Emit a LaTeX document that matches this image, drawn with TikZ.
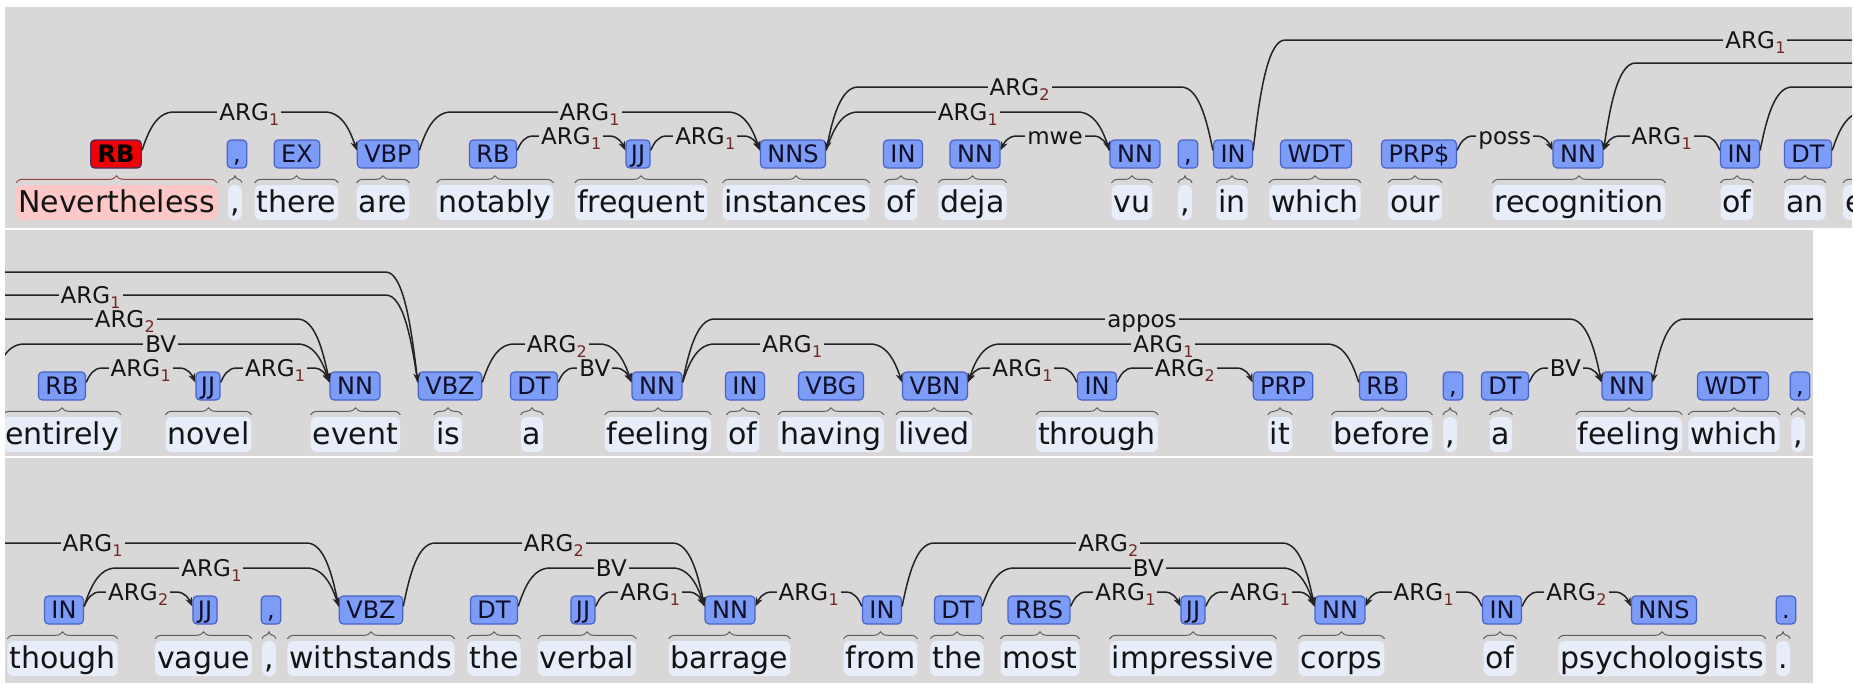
\documentclass[tikz,border=0pt]{standalone}
\usepackage{fontspec}
\setmainfont{DejaVu Sans}
\usetikzlibrary{arrows.meta,calc,decorations.pathreplacing}
\definecolor{bgc}{RGB}{217,215,215}
\definecolor{tagfill}{RGB}{124,156,248}
\definecolor{tagdraw}{RGB}{72,100,200}
\definecolor{tagtxt}{RGB}{15,15,40}
\definecolor{wordbg}{RGB}{232,237,250}
\definecolor{wordtxt}{RGB}{20,20,20}
\definecolor{selbg}{RGB}{255,200,200}
\definecolor{selfill}{RGB}{240,0,0}
\definecolor{seldraw}{RGB}{80,40,100}
\definecolor{selbrace}{RGB}{150,70,70}
\definecolor{bracec}{RGB}{95,95,95}
\definecolor{edgec}{RGB}{35,35,35}
\definecolor{labtxt}{RGB}{20,20,20}
\definecolor{subc}{RGB}{110,40,40}
\newcommand\wordfont{\fontsize{30}{36}\selectfont}
\newcommand\tagfont{\fontsize{24}{28}\selectfont}
\newcommand\labfont{\fontsize{23}{27}\selectfont}
\newcommand\ARG[1]{ARG\kern0.3pt\raisebox{-5pt}{\fontsize{16}{16}\selectfont\color{subc}#1}}
\tikzset{
 wordnode/.style={fill=wordbg, rounded corners=6pt, inner xsep=2pt, inner ysep=2pt, text height=25pt, text depth=6pt, font=\wordfont, text=wordtxt},
 tagbox/.style={draw=tagdraw, fill=tagfill, line width=1.2pt, rounded corners=4pt, minimum height=28pt, inner xsep=7pt, inner ysep=0pt, text height=17.5pt, text depth=0pt, font=\tagfont, text=tagtxt},
 narrowtag/.style={inner xsep=5pt},
 punct/.style={inner xsep=6pt},
 brc/.style={draw=bracec, line width=1pt, decorate, decoration={brace, amplitude=7pt}},
 edgeline/.style={draw=edgec, line width=1.5pt, -{Stealth[length=9pt,width=7pt]}},
 lab/.style={fill=bgc, inner xsep=2pt, inner ysep=1pt, text height=17pt, text depth=0pt, font=\labfont, text=labtxt},
}
% token: [tag opts]{name}{tag x}{word x}{row offset}{tag}{word}
\newcommand\tok[7][]{%
 \node[wordnode] (#2w) at (#4, {-202.5-#5}) {#7};
 \node[tagbox,#1] (#2) at (#3, {-154-#5}) {#6};
 \draw[brc] ($(#2w.north west)+(0pt,2pt)$) -- ($(#2w.north east)+(0pt,2pt)$);
}
% rightward edge between points: {start}{end}{level}{dx}{label}
\newcommand\edgeR[5]{%
 \draw[edgeline] let \p1=(#1), \p2=(#2) in
 (\p1) .. controls (\x1+0.2*#4pt, {0.5*\y1+0.5*(#3pt)}) and (\x1+0.45*#4pt, #3pt) .. (\x1+#4pt, #3pt)
 -- (\x2-#4pt, #3pt) .. controls (\x2-0.45*#4pt, #3pt) and (\x2-0.2*#4pt, {0.5*\y2+0.5*(#3pt)}) .. (\p2)
 node[lab] at ({0.5*\x1+0.5*\x2}, #3pt) {#5};}
% leftward edge between points
\newcommand\edgeL[5]{%
 \draw[edgeline] let \p1=(#1), \p2=(#2) in
 (\p1) .. controls (\x1-0.2*#4pt, {0.5*\y1+0.5*(#3pt)}) and (\x1-0.45*#4pt, #3pt) .. (\x1-#4pt, #3pt)
 -- (\x2+#4pt, #3pt) .. controls (\x2+0.45*#4pt, #3pt) and (\x2+0.2*#4pt, {0.5*\y2+0.5*(#3pt)}) .. (\p2)
 node[lab] at ({0.5*\x1+0.5*\x2}, #3pt) {#5};}
\newcommand\arcR[5]{\edgeR{$(#1.north east)+(0pt,-11pt)$}{$(#2.north west)+(0pt,-11pt)$}{#3}{#4}{#5}}
\newcommand\arcL[5]{\edgeL{$(#1.north west)+(0pt,-11pt)$}{$(#2.north east)+(0pt,-11pt)$}{#3}{#4}{#5}}
\begin{document}
\begin{tikzpicture}[x=1pt,y=1pt]
\useasboundingbox (0,0) rectangle (1854,-683);
\fill[white] (0,0) rectangle (1854,-683);
% ---------------- row 1 nodes
\begin{scope}
\clip (5,-7) rectangle (1852,-228);
\fill[bgc] (5,-7) rectangle (1852,-228);
\node[wordnode, fill=selbg] (a1w) at (116.5,-202.5) {Nevertheless};
\node[tagbox, fill=selfill, draw=seldraw, text=black, font=\tagfont\bfseries] (a1) at (116,-154) {RB};
\draw[brc, draw=selbrace] ($(a1w.north west)+(0pt,2pt)$) -- ($(a1w.north east)+(0pt,2pt)$);
\tok[punct]{a2}{237}{235}{0}{,}{,}
\tok{a3}{297}{296.5}{0}{EX}{there}
\tok{a4}{388}{383}{0}{VBP}{are}
\tok{a5}{493}{495}{0}{RB}{notably}
\tok[narrowtag]{a6}{638}{641}{0}{JJ}{frequent}
\tok{a7}{793}{796}{0}{NNS}{instances}
\tok{a8}{903}{901}{0}{IN}{of}
\tok{a9}{975}{972.5}{0}{NN}{deja}
\tok{a10}{1135}{1132}{0}{NN}{vu}
\tok[punct]{a11}{1188}{1185}{0}{,}{,}
\tok{a12}{1233}{1232}{0}{IN}{in}
\tok{a13}{1316}{1315}{0}{WDT}{which}
\tok{a14}{1419}{1415}{0}{PRP\$}{our}
\tok{a15}{1578}{1579}{0}{NN}{recognition}
\tok{a16}{1740}{1737}{0}{IN}{of}
\tok{a17}{1808}{1805}{0}{DT}{an}
\node[wordnode] (a18w) at (1902,-202.5) {entirely};
\draw[brc] ($(a18w.north west)+(0pt,2pt)$) -- ($(a18w.north east)+(0pt,2pt)$);
\end{scope}
% ---------------- row 2 nodes
\begin{scope}
\clip (5,-230) rectangle (1813,-456);
\fill[bgc] (5,-230) rectangle (1813,-456);
\tok{b1}{62}{62}{232}{RB}{entirely}
\tok[narrowtag]{b2}{208}{208.5}{232}{JJ}{novel}
\tok{b3}{355}{355.5}{232}{NN}{event}
\tok{b4}{450}{448}{232}{VBZ}{is}
\tok{b5}{534}{532}{232}{DT}{a}
\tok{b6}{657}{658}{232}{NN}{feeling}
\tok{b7}{745}{743}{232}{IN}{of}
\tok{b8}{831}{831}{232}{VBG}{having}
\tok{b9}{935}{934}{232}{VBN}{lived}
\tok{b10}{1097}{1097}{232}{IN}{through}
\tok{b11}{1283}{1280}{232}{PRP}{it}
\tok{b12}{1383}{1382}{232}{RB}{before}
\tok[punct]{b13}{1453}{1450}{232}{,}{,}
\tok{b14}{1505}{1501}{232}{DT}{a}
\tok{b15}{1627}{1629}{232}{NN}{feeling}
\tok{b16}{1733}{1734}{232}{WDT}{which}
\tok[punct]{b17}{1800}{1798}{232}{,}{,}
\end{scope}
% ---------------- row 3 nodes
\begin{scope}
\clip (5,-458) rectangle (1813,-683);
\fill[bgc] (5,-458) rectangle (1813,-683);
\tok{c1}{64}{62.5}{456}{IN}{though}
\tok[narrowtag]{c2}{205}{203.5}{456}{JJ}{vague}
\tok[punct]{c3}{271}{269}{456}{,}{,}
\tok{c4}{371}{371}{456}{VBZ}{withstands}
\tok{c5}{494}{494}{456}{DT}{the}
\tok[narrowtag]{c6}{583}{587}{456}{JJ}{verbal}
\tok{c7}{730}{729.5}{456}{NN}{barrage}
\tok{c8}{882}{880.5}{456}{IN}{from}
\tok{c9}{958}{957}{456}{DT}{the}
\tok{c10}{1039}{1040}{456}{RBS}{most}
\tok[narrowtag]{c11}{1193}{1193}{456}{JJ}{impressive}
\tok{c12}{1340}{1341.5}{456}{NN}{corps}
\tok{c13}{1502}{1500}{456}{IN}{of}
\tok{c14}{1664}{1662}{456}{NNS}{psychologists}
\tok[punct]{c15}{1786}{1783}{456}{.}{.}
\end{scope}
% ---------------- free ends of edges that run across the line breaks
\coordinate (p1isL) at ($(b4.north west)+(1840pt,221pt)$);
\coordinate (p1evL) at ($(b3.north west)+(1840pt,221pt)$);
\coordinate (p2inR) at ($(a12.north east)+(-1840pt,-243pt)$);
\coordinate (p2recR) at ($(a15.north east)+(-1840pt,-243pt)$);
\coordinate (p2ofR) at ($(a16.north east)+(-1840pt,-243pt)$);
\coordinate (p2anR) at ($(a17.north east)+(-1840pt,-243pt)$);
\coordinate (p2wsL) at ($(c4.north west)+(1806pt,213pt)$);
\coordinate (p3feR) at ($(b15.north east)+(-1806pt,-235pt)$);
% ---------------- row 1 edges
\begin{scope}
\clip (5,-7) rectangle (1852,-228);
\edgeR{$(a12.north east)+(0pt,-11pt)$}{p1isL}{-40}{32}{\ARG1}
\edgeL{p1isL}{$(a15.north east)+(0pt,-11pt)$}{-63}{32}{\ARG1}
\edgeR{$(a16.north east)+(0pt,-11pt)$}{p1evL}{-87}{32}{\ARG2}
\arcL{a12}{a7}{-87}{32}{\ARG2}
\edgeR{$(a17.north east)+(0pt,-11pt)$}{p1evL}{-112}{32}{BV}
\arcR{a1}{a4}{-112}{32}{\ARG1}
\arcR{a4}{a7}{-112}{32}{\ARG1}
\arcR{a7}{a10}{-112}{32}{\ARG1}
\arcR{a5}{a6}{-136}{16}{\ARG1}
\arcR{a6}{a7}{-136}{16}{\ARG1}
\arcL{a10}{a9}{-136}{16}{mwe}
\arcR{a14}{a15}{-136}{16}{poss}
\arcL{a16}{a15}{-136}{16}{\ARG1}
\end{scope}
% ---------------- row 2 edges
\begin{scope}
\clip (5,-230) rectangle (1813,-456);
\edgeR{p2inR}{$(b4.north west)+(0pt,-11pt)$}{-272}{32}{\ARG1}
\edgeL{$(b4.north west)+(0pt,-11pt)$}{p2recR}{-295}{32}{\ARG1}
\edgeR{p2ofR}{$(b3.north west)+(0pt,-11pt)$}{-319}{32}{\ARG2}
\arcR{b6}{b15}{-319}{32}{appos}
\edgeL{p2wsL}{$(b15.north east)+(0pt,-11pt)$}{-319}{32}{\ARG1}
\edgeR{p2anR}{$(b3.north west)+(0pt,-11pt)$}{-344}{32}{BV}
\arcR{b4}{b6}{-344}{32}{\ARG2}
\arcR{b6}{b9}{-344}{32}{\ARG1}
\arcL{b12}{b9}{-344}{32}{\ARG1}
\arcR{b1}{b2}{-368}{16}{\ARG1}
\arcR{b2}{b3}{-368}{16}{\ARG1}
\arcR{b5}{b6}{-368}{16}{BV}
\arcL{b10}{b9}{-368}{16}{\ARG1}
\arcR{b10}{b11}{-368}{16}{\ARG2}
\arcR{b14}{b15}{-368}{16}{BV}
\end{scope}
% ---------------- row 3 edges
\begin{scope}
\clip (5,-458) rectangle (1813,-683);
\edgeL{$(c4.north west)+(0pt,-11pt)$}{p3feR}{-543}{32}{\ARG1}
\arcR{c4}{c7}{-543}{32}{\ARG2}
\arcR{c8}{c12}{-543}{32}{\ARG2}
\arcR{c1}{c4}{-568}{32}{\ARG1}
\arcR{c5}{c7}{-568}{32}{BV}
\arcR{c9}{c12}{-568}{32}{BV}
\arcR{c1}{c2}{-592}{16}{\ARG2}
\arcR{c6}{c7}{-592}{16}{\ARG1}
\arcL{c8}{c7}{-592}{16}{\ARG1}
\arcR{c10}{c11}{-592}{16}{\ARG1}
\arcR{c11}{c12}{-592}{16}{\ARG1}
\arcL{c13}{c12}{-592}{16}{\ARG1}
\arcR{c13}{c14}{-592}{16}{\ARG2}
\end{scope}
\end{tikzpicture}
\end{document}
